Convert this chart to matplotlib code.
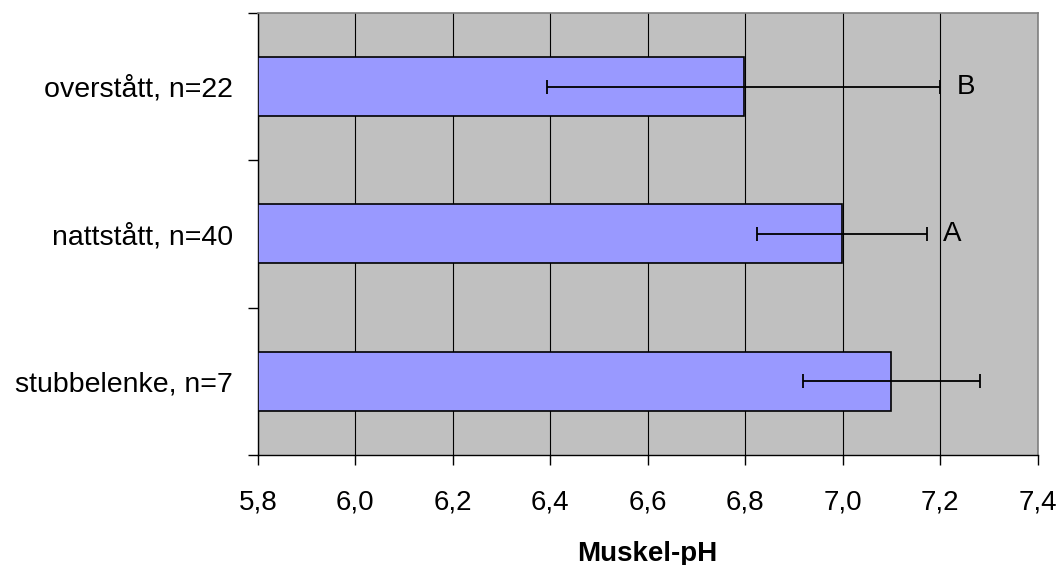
import numpy as np
import matplotlib
matplotlib.use("Agg")
import matplotlib.pyplot as plt

plt.rcParams['font.family'] = ['Liberation Sans', 'DejaVu Sans']

categories = ["overstått, n=22", "nattstått, n=40", "stubbelenke, n=7"]
means = [6.797, 6.998, 7.100]
errors = [0.403, 0.174, 0.182]
letters = ["B", "A", ""]
x_ticks = [5.8, 6.0, 6.2, 6.4, 6.6, 6.8, 7.0, 7.2, 7.4]
x_labels = ["5,8", "6,0", "6,2", "6,4", "6,6", "6,8", "7,0", "7,2", "7,4"]

fig = plt.figure(figsize=(10.61, 5.65), dpi=100)
ax = fig.add_axes([0.243, 0.195, 0.735, 0.782])
ax.set_facecolor("#C0C0C0")

y = np.arange(len(categories))
ax.barh(y, np.array(means) - 5.8, left=5.8, height=0.4, color="#9999FF",
        edgecolor="black", linewidth=1.2, zorder=3)
ax.errorbar(means, y, xerr=errors, fmt="none", ecolor="black",
            elinewidth=1.3, capsize=5, capthick=1.3, zorder=4)
for yi, m, e, lab in zip(y, means, errors, letters):
    if lab:
        ax.text(m + e + 0.033, yi, lab, va="center", ha="left", fontsize=20)

ax.set_xlim(5.8, 7.4)
ax.set_ylim(2.5, -0.5)
ax.set_xticks(x_ticks)
ax.set_xticklabels(x_labels, fontsize=20)
ax.xaxis.grid(True, color="black", linewidth=0.8, zorder=1)
ax.set_axisbelow(True)

ax.set_yticks([-0.5, 0.5, 1.5, 2.5])
ax.set_yticklabels([])
ax.set_yticks(y, minor=True)
ax.set_yticklabels(categories, minor=True, fontsize=20.5)
ax.tick_params(axis="y", which="minor", length=0, pad=18)
ax.tick_params(axis="y", which="major", length=7, width=1, direction="out")
ax.tick_params(axis="x", length=7, width=1, direction="out", pad=18)

for side in ["top", "right"]:
    ax.spines[side].set_color("#808080")
    ax.spines[side].set_linewidth(1.2)
for side in ["left", "bottom"]:
    ax.spines[side].set_color("black")
    ax.spines[side].set_linewidth(1.0)

ax.set_xlabel("Muskel-pH", fontsize=20, fontweight="bold", labelpad=18)

fig.savefig("out.png", dpi=100)
